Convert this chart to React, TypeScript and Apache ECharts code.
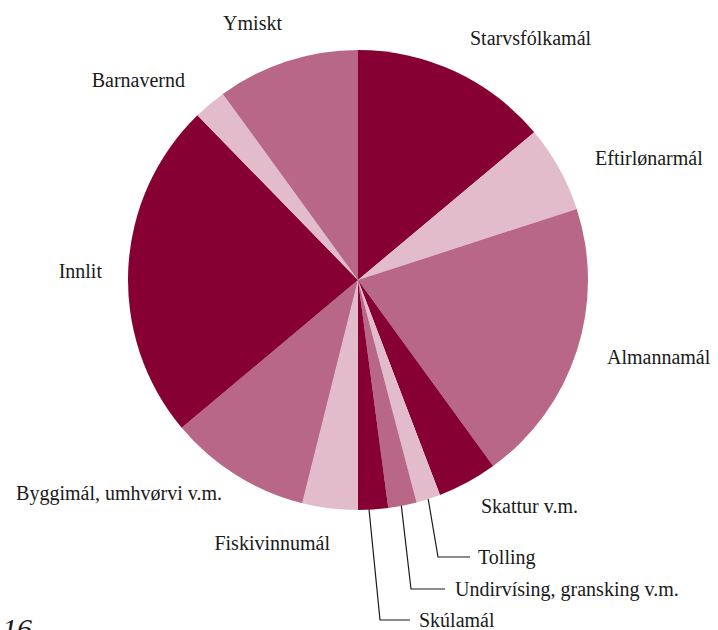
import React, { useEffect, useRef } from "react";
import * as echarts from "echarts";

const categories = [
  "Starvsfólkamál",
  "Eftirlønarmál",
  "Almannamál",
  "Skattur v.m.",
  "Tolling",
  "Undirvísing, gransking v.m.",
  "Skúlamál",
  "Fiskivinnumál",
  "Byggimál, umhvørvi v.m.",
  "Innlit",
  "Barnavernd",
  "Ymiskt",
];
const values = [13.9, 6.1, 20.0, 4.2, 1.7, 2.0, 2.1, 3.9, 10.0, 23.8, 2.3, 10.0];

const DARK = "#870033";
const LIGHT = "#e2bccb";
const MID = "#b86787";
const colors = [DARK, LIGHT, MID, DARK, LIGHT, MID, DARK, LIGHT, MID, DARK, LIGHT, MID];

const labelLayouts: any[] = [
  { x: 470, y: 38, align: "left" },
  { x: 595, y: 158, align: "left" },
  { x: 607, y: 357, align: "left" },
  { x: 481, y: 506, align: "left" },
  { x: 478, y: 557, align: "left", line: [[426, 486], [438, 557], [470, 557]] },
  { x: 455, y: 589, align: "left", line: [[400, 494], [411, 589], [445, 589]] },
  { x: 419, y: 620, align: "left", line: [[368, 499], [380, 620], [410, 620]] },
  { x: 330, y: 543, align: "right" },
  { x: 222, y: 493, align: "right" },
  { x: 102, y: 271, align: "right" },
  { x: 185, y: 80, align: "right" },
  { x: 282, y: 23, align: "right" },
];

export default function App() {
  const ref = useRef<HTMLDivElement>(null);
  useEffect(() => {
    document.body.style.margin = "0";
    const chart = echarts.init(ref.current!, null, { renderer: "svg" });
    const data = categories.map((name, i) => ({
      name,
      value: values[i],
      itemStyle: { color: colors[i] },
      labelLine: { show: !!labelLayouts[i].line },
    }));
    chart.setOption({
      animation: false,
      backgroundColor: "#ffffff",
      series: [
        {
          type: "pie",
          center: [358, 280],
          radius: 230,
          startAngle: 90,
          clockwise: true,
          avoidLabelOverlap: false,
          data,
          itemStyle: { borderWidth: 0 },
          label: {
            show: true,
            position: "outside",
            formatter: "{b}",
            fontFamily: "Liberation Serif",
            fontSize: 20,
            color: "#1a1a1a",
          },
          labelLine: {
            show: false,
            lineStyle: { color: "#1a1a1a", width: 1.2 },
          },
          emphasis: { disabled: true },
          labelLayout: (params: any) => {
            const l = labelLayouts[params.dataIndex];
            const r: any = {
              x: l.x,
              y: l.y,
              align: l.align,
              verticalAlign: "middle",
            };
            if (l.line) r.labelLinePoints = l.line;
            return r;
          },
        },
      ],
      graphic: [
        {
          type: "text",
          left: 2,
          top: 613,
          style: {
            text: "16",
            fontFamily: "Liberation Serif",
            fontStyle: "italic",
            fontSize: 30,
            fill: "#1a1a1a",
          },
        },
      ],
    });
    return () => chart.dispose();
  }, []);
  return <div ref={ref} style={{ width: 718, height: 630 }} />;
}
